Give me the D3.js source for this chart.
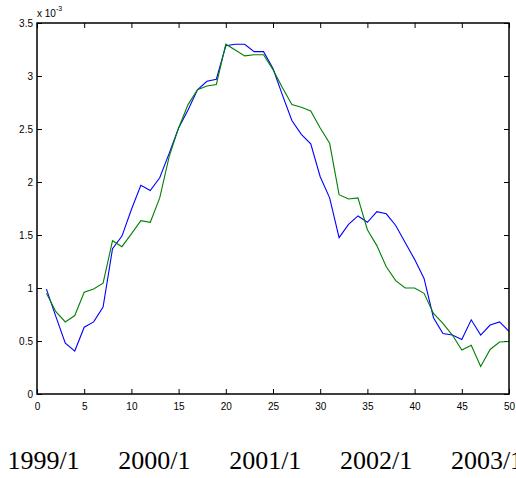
<!DOCTYPE html>
<html>
<head>
<meta charset="utf-8">
<script src="https://cdn.jsdelivr.net/npm/d3@7"></script>
<style>
  body { margin: 0; background: #fff; overflow: hidden; }
  svg { display: block; }
</style>
</head>
<body>
<script>
// sample index 1..50
var steps = d3.range(1, 51);

// values in units of 1e-3
var blueSeries = [0.99, 0.73, 0.48, 0.405, 0.63, 0.68, 0.82, 1.37, 1.49, 1.74,
    1.97, 1.92, 2.04, 2.27, 2.51, 2.68, 2.87, 2.95, 2.97, 3.285,
    3.30, 3.30, 3.23, 3.23, 3.07, 2.82, 2.58, 2.45, 2.36, 2.05,
    1.85, 1.475, 1.60, 1.68, 1.62, 1.72, 1.70, 1.59, 1.43, 1.27,
    1.09, 0.72, 0.57, 0.556, 0.515, 0.70, 0.556, 0.65, 0.68, 0.59];

var greenSeries = [0.95, 0.776, 0.68, 0.74, 0.96, 0.99, 1.045, 1.446, 1.39, 1.51,
    1.635, 1.62, 1.85, 2.24, 2.51, 2.73, 2.87, 2.905, 2.92, 3.30,
    3.245, 3.19, 3.20, 3.20, 3.06, 2.89, 2.73, 2.705, 2.67, 2.51,
    2.365, 1.88, 1.84, 1.85, 1.55, 1.40, 1.20, 1.07, 1.00, 1.00,
    0.95, 0.76, 0.667, 0.556, 0.415, 0.46, 0.26, 0.42, 0.49, 0.495];

var xTicks = [0, 5, 10, 15, 20, 25, 30, 35, 40, 45, 50];
var yTicks = [0, 0.5, 1, 1.5, 2, 2.5, 3, 3.5];
var dateLabels = ["1999/1", "2000/1", "2001/1", "2002/1", "2003/1"];

var W = 516, H = 478;
var plot = { left: 37, right: 509, top: 23, bottom: 394 };

var svg = d3.select("body").append("svg")
    .attr("width", W)
    .attr("height", H);

svg.append("rect").attr("width", W).attr("height", H).attr("fill", "#fff");

var x = d3.scaleLinear().domain([0, 50]).range([plot.left, plot.right]);
var y = d3.scaleLinear().domain([0, 3.5]).range([plot.bottom, plot.top]);

var tickFont = "'Liberation Sans', Arial, sans-serif";

// bottom axis (ticks pointing inward)
var axBottom = svg.append("g")
    .attr("transform", "translate(0," + plot.bottom + ")")
    .call(d3.axisBottom(x).tickValues(xTicks).tickSizeInner(-5).tickSizeOuter(0).tickPadding(9));
// top axis, ticks only
var axTop = svg.append("g")
    .attr("transform", "translate(0," + plot.top + ")")
    .call(d3.axisTop(x).tickValues(xTicks).tickSizeInner(-5).tickSizeOuter(0).tickFormat(""));
// left axis
var axLeft = svg.append("g")
    .attr("transform", "translate(" + plot.left + ",0)")
    .call(d3.axisLeft(y).tickValues(yTicks).tickSizeInner(-5).tickSizeOuter(0).tickPadding(4)
        .tickFormat(function(d) { return d3.format("")(d); }));
// right axis, ticks only
var axRight = svg.append("g")
    .attr("transform", "translate(" + plot.right + ",0)")
    .call(d3.axisRight(y).tickValues(yTicks).tickSizeInner(-5).tickSizeOuter(0).tickFormat(""));

[axBottom, axTop, axLeft, axRight].forEach(function(g) {
    g.select(".domain").remove();
    g.selectAll(".tick line").attr("stroke", "#000").attr("stroke-width", 1);
    g.selectAll("text")
        .style("font-family", tickFont)
        .style("font-size", "10px")
        .attr("fill", "#000");
});

// x 10^-3 exponent label
var expo = svg.append("text")
    .attr("x", plot.left)
    .attr("y", 17)
    .style("font-family", tickFont)
    .style("font-size", "10px")
    .text("x 10");
expo.append("tspan")
    .attr("dy", -6)
    .style("font-size", "7px")
    .text("-3");

// series lines
var line = d3.line()
    .x(function(d) { return x(d[0]); })
    .y(function(d) { return y(d[1]); });

svg.append("path")
    .datum(d3.zip(steps, blueSeries))
    .attr("fill", "none")
    .attr("stroke", "#0000ff")
    .attr("stroke-width", 1.1)
    .attr("d", line);

svg.append("path")
    .datum(d3.zip(steps, greenSeries))
    .attr("fill", "none")
    .attr("stroke", "#008000")
    .attr("stroke-width", 1.1)
    .attr("d", line);

// box
svg.append("rect")
    .attr("x", plot.left)
    .attr("y", plot.top)
    .attr("width", plot.right - plot.left)
    .attr("height", plot.bottom - plot.top)
    .attr("fill", "none")
    .attr("stroke", "#000")
    .attr("stroke-width", 1.5);

// date labels under the plot (the last one runs off the right edge, as in the source)
var dateX = d3.scaleLinear().domain([0, dateLabels.length - 1]).range([43.5, 487]);
svg.selectAll(".date")
    .data(dateLabels)
    .enter()
    .append("text")
    .attr("class", "date")
    .attr("x", function(d, i) { return dateX(i); })
    .attr("y", 469)
    .attr("text-anchor", "middle")
    .style("font-family", "'Liberation Serif', 'Times New Roman', serif")
    .style("font-size", "26px")
    .text(function(d) { return d; });
</script>
</body>
</html>
